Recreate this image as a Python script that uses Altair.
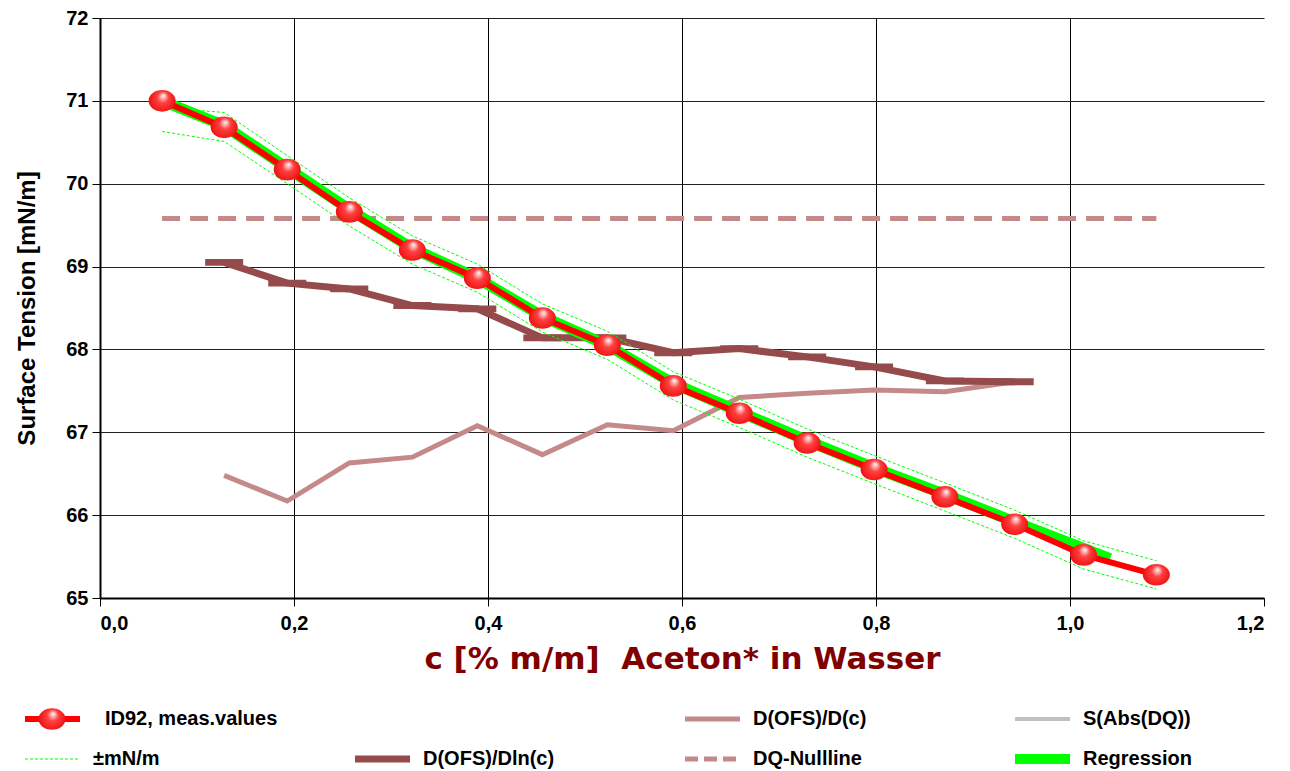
import altair as alt
import pandas as pd

# ---------------- data ----------------
meas_x = [0.064, 0.128, 0.193, 0.257, 0.322, 0.389, 0.456, 0.523, 0.591, 0.659, 0.729, 0.798, 0.871, 0.943, 1.014, 1.089]
meas_y = [71.00, 70.68, 70.17, 69.66, 69.20, 68.86, 68.38, 68.05, 67.56, 67.23, 66.87, 66.55, 66.22, 65.89, 65.52, 65.28]

band_upper = [70.92, 70.86, 70.34, 69.83, 69.37, 69.03, 68.55, 68.22, 67.73, 67.40, 67.04, 66.72, 66.39, 66.06, 65.69, 65.45]
band_lower = [70.63, 70.51, 70.00, 69.49, 69.03, 68.69, 68.21, 67.88, 67.39, 67.06, 66.70, 66.38, 66.05, 65.72, 65.35, 65.11]

reg_x = [0.064, 0.128, 0.193, 0.257, 0.322, 0.389, 0.456, 0.523, 0.591, 0.659, 0.729, 0.798, 0.871, 0.943, 1.036]
reg_y = [71.00, 70.70, 70.19, 69.69, 69.22, 68.86, 68.40, 68.05, 67.59, 67.25, 66.90, 66.57, 66.25, 65.92, 65.50]

deriv_x = [0.128, 0.193, 0.257, 0.322, 0.389, 0.456, 0.523, 0.591, 0.659, 0.729, 0.798, 0.871, 0.943]
dln_y = [69.05, 68.80, 68.73, 68.53, 68.49, 68.14, 68.14, 67.96, 68.01, 67.91, 67.79, 67.62, 67.61]
dc_y = [66.48, 66.17, 66.63, 66.70, 67.08, 66.73, 67.09, 67.02, 67.42, 67.47, 67.51, 67.49, 67.61]

null_x = [0.064, 1.089]
null_y = [69.58, 69.58]

x_ticks = [0.0, 0.2, 0.4, 0.6, 0.8, 1.0, 1.2]
y_ticks = [65, 66, 67, 68, 69, 70, 71, 72]

legend_labels = ["ID92, meas.values", "D(OFS)/D(c)", "S(Abs(DQ))", "±mN/m", "D(OFS)/Dln(c)", "DQ-Nullline", "Regression"]
legend_keys = ["meas", "dc", "s", "band", "dln", "null", "reg"]
legend_cols = [0, 2, 3, 0, 1, 2, 3]
legend_rows = [0, 0, 0, 1, 1, 1, 1]

# ---------------- colours ----------------
RED = "#ff0000"
GREEN = "#00ff00"
BROWN = "#954b4b"
ROSY = "#c48a8a"
GREY = "#c0c0c0"

meas_df = pd.DataFrame({"x": meas_x, "y": meas_y})
band_df = pd.DataFrame({"x": meas_x, "up": band_upper, "lo": band_lower})
reg_df = pd.DataFrame({"x": reg_x, "y": reg_y})
dln_df = pd.DataFrame({"x": deriv_x, "y": dln_y})
dc_df = pd.DataFrame({"x": deriv_x, "y": dc_y})
null_df = pd.DataFrame({"x": null_x, "y": null_y})

xs = alt.Scale(domain=[0, 1.2], nice=False, zero=False)
ys = alt.Scale(domain=[65, 72], nice=False, zero=False)

x_axis = alt.Axis(
    values=x_ticks,
    labelExpr="replace(format(datum.value, '.1f'), '.', ',')",
    title="c [% m/m]\u00a0\u00a0Aceton* in Wasser",
    titleColor="#800000", titleFont="DejaVu Sans", titleFontSize=31, titleFontWeight="bold",
    titlePadding=11,
    labelFont="Liberation Sans", labelFontSize=20, labelFontWeight="bold", labelColor="#000000",
    labelPadding=7, tickSize=8, tickColor="#000000", domainColor="#000000", domainWidth=2,
    grid=True, gridColor="#000000", gridWidth=1,
    gridOpacity={"condition": {"test": "datum.value > 1.15", "value": 0}, "value": 1},
)
y_axis = alt.Axis(
    values=y_ticks, format="d",
    title="Surface Tension [mN/m]",
    titleFont="Liberation Sans", titleFontSize=24, titleFontWeight="bold", titleColor="#000000",
    titlePadding=26,
    labelFont="Liberation Sans", labelFontSize=20, labelFontWeight="bold", labelColor="#000000",
    labelPadding=4, tickSize=8, tickColor="#000000", domainColor="#000000", domainWidth=2,
    grid=True, gridColor="#222222", gridWidth=1,
)

X = alt.X("x:Q", scale=xs, axis=x_axis)
Y = alt.Y("y:Q", scale=ys, axis=y_axis)

null_line = alt.Chart(null_df).mark_line(color=ROSY, strokeWidth=5, strokeDash=[18, 10]).encode(x=X, y=Y)
dc_line = alt.Chart(dc_df).mark_line(color=ROSY, strokeWidth=5).encode(x=X, y=Y)
dln_line = alt.Chart(dln_df).mark_line(color=BROWN, strokeWidth=7).encode(x=X, y=Y)
dln_bars = alt.Chart(dln_df).mark_point(
    shape="M-1,-0.18L1,-0.18L1,0.18L-1,0.18Z", size=1444, filled=True, color=BROWN, opacity=1
).encode(x=X, y=Y)
band_up = alt.Chart(band_df).mark_line(color=GREEN, strokeWidth=1, strokeDash=[3, 2]).encode(
    x=X, y=alt.Y("up:Q", scale=ys))
band_lo = alt.Chart(band_df).mark_line(color=GREEN, strokeWidth=1, strokeDash=[3, 2]).encode(
    x=X, y=alt.Y("lo:Q", scale=ys))
reg_line = alt.Chart(reg_df).mark_line(color=GREEN, strokeWidth=11, strokeCap="square").encode(x=X, y=Y)
meas_line = alt.Chart(meas_df).mark_line(color=RED, strokeWidth=6).encode(x=X, y=Y)

sphere = alt.RadialGradient(
    gradient="radial",
    stops=[alt.GradientStop(color="#ffffff", offset=0),
           alt.GradientStop(color="#ff4040", offset=0.35),
           alt.GradientStop(color="#e80000", offset=1)],
    x1=0.55, y1=0.3, r1=0, x2=0.5, y2=0.5, r2=0.6,
)
ELLIPSE = "M-1,0A1,0.8,0,1,1,1,0A1,0.8,0,1,1,-1,0Z"
meas_pts = alt.Chart(meas_df).mark_point(
    shape=ELLIPSE, size=729, filled=True, fill=sphere, opacity=1, strokeWidth=0
).encode(x=X, y=Y)

main = alt.layer(
    null_line, dc_line, dln_line, dln_bars, band_up, band_lo, reg_line, meas_line, meas_pts
).properties(width=1164, height=580)

# ---------------- custom legend ----------------
leg_df = pd.DataFrame({"label": legend_labels, "key": legend_keys, "col": legend_cols, "row": legend_rows})
LW = 1164
LA = 75 / 330
lx = alt.Scale(domain=[LA, LA + LW / 330], nice=False, zero=False)
ly = alt.Scale(domain=[-0.5, 1.5], nice=False, zero=False, reverse=True)
leg_base = alt.Chart(leg_df).transform_calculate(
    x0="datum.col",
    x1="datum.col + 55/330",
    xc="datum.col + 27/330",
    xt="datum.col + (datum.key == 'meas' ? 80/330 : 68/330)",
)
LX = alt.X("x0:Q", scale=lx, axis=None)
LX2 = alt.X2("x1:Q")
LY = alt.Y("row:Q", scale=ly, axis=None)


def leg_rule(key, **kw):
    return leg_base.transform_filter(f"datum.key == '{key}'").mark_rule(**kw).encode(x=LX, x2=LX2, y=LY)


leg_layers = [
    leg_rule("meas", color=RED, strokeWidth=6),
    leg_rule("dc", color=ROSY, strokeWidth=5),
    leg_rule("s", color=GREY, strokeWidth=4),
    leg_rule("band", color=GREEN, strokeWidth=1, strokeDash=[3, 2]),
    leg_rule("dln", color=BROWN, strokeWidth=7),
    leg_rule("null", color=ROSY, strokeWidth=5, strokeDash=[13, 6]),
    leg_rule("reg", color=GREEN, strokeWidth=10),
    leg_base.transform_filter("datum.key == 'meas'").mark_point(
        shape=ELLIPSE, size=729, filled=True, fill=sphere, opacity=1, strokeWidth=0
    ).encode(x=alt.X("xc:Q", scale=lx, axis=None), y=LY),
    leg_base.mark_text(
        align="left", baseline="middle", font="Liberation Sans", fontSize=20, fontWeight="bold", color="#000000"
    ).encode(x=alt.X("xt:Q", scale=lx, axis=None), y=LY, text="label:N"),
]
legend = alt.layer(*leg_layers).properties(width=LW, height=80)

chart = alt.vconcat(main, legend, spacing=25).properties(
    padding={"left": 15, "top": 8, "right": 5, "bottom": 0},
    background="#ffffff",
).configure_view(stroke=None)

chart.save("out.html", embed_options={"renderer": "svg", "actions": False})
